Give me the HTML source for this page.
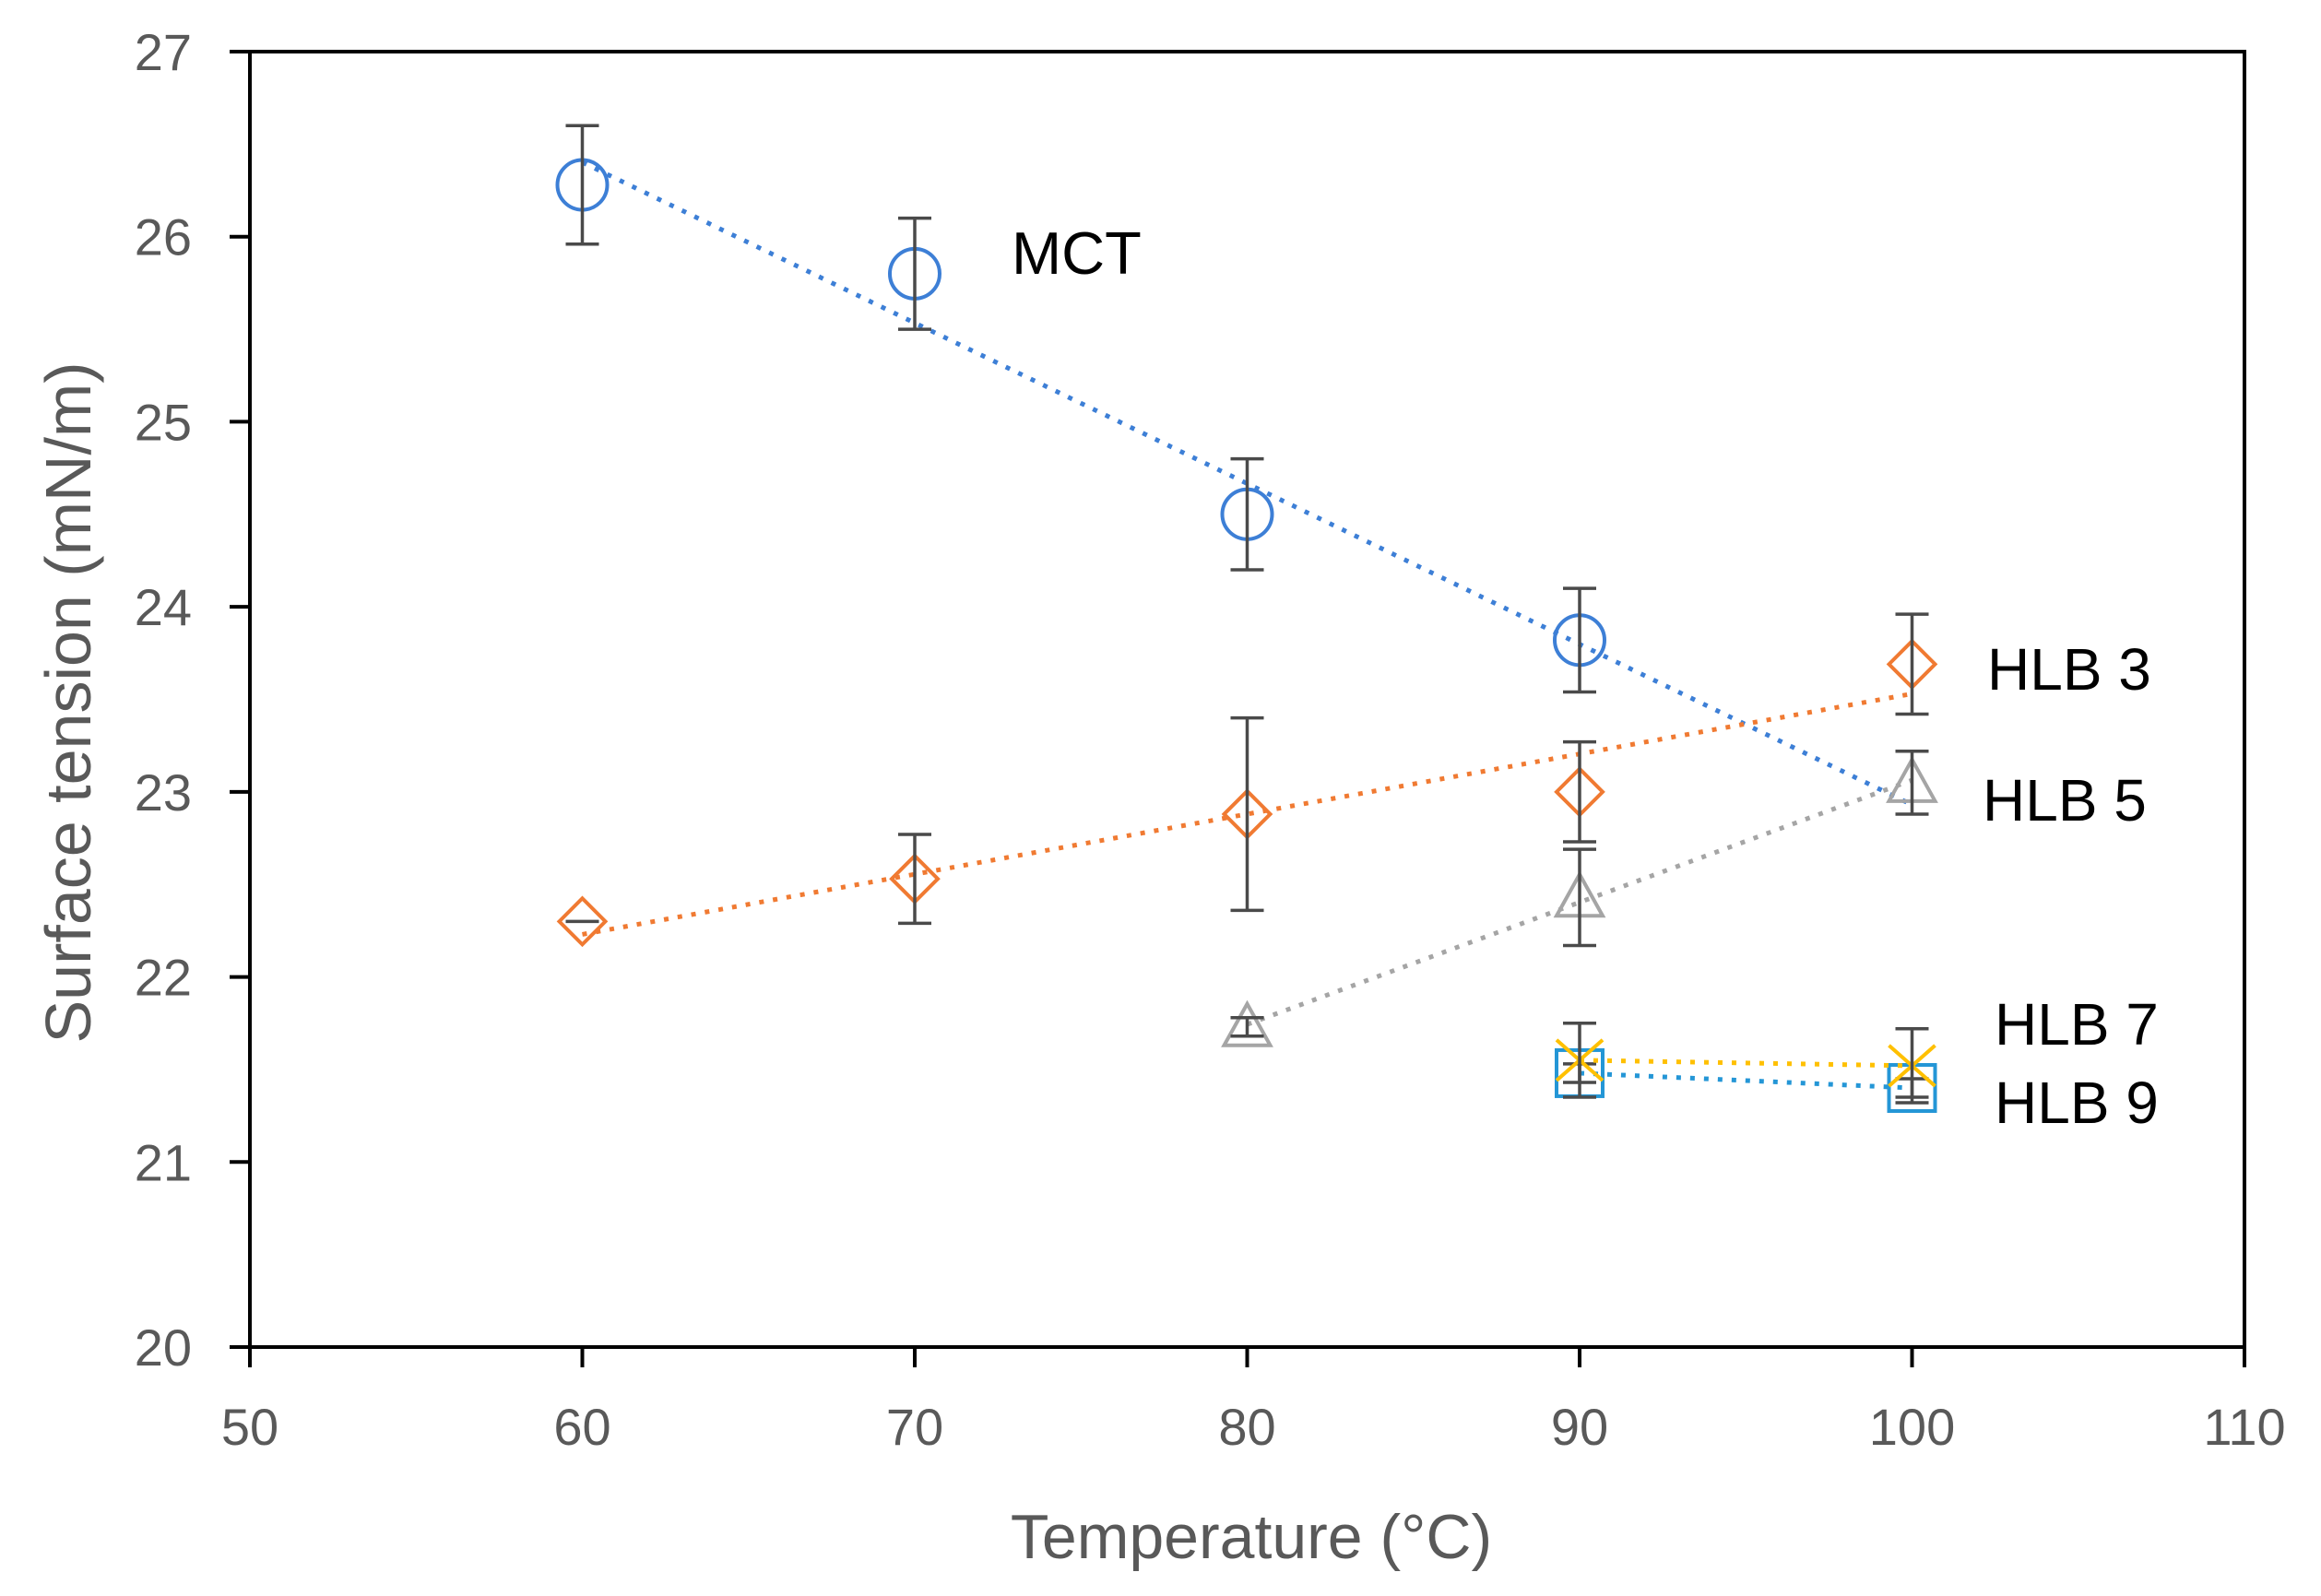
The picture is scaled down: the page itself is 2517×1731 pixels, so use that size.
<!DOCTYPE html>
<html><head><meta charset="utf-8"><style>
html,body{margin:0;padding:0;background:#fff}
svg{display:block;font-family:"Liberation Sans","DejaVu Sans",sans-serif}
</style></head><body>
<svg id="chart" width="2517" height="1731" viewBox="0 0 2517 1731" xmlns="http://www.w3.org/2000/svg">
<rect width="2517" height="1731" fill="#fff"/>
<g id="series"></g>
<rect x="271" y="56" width="2163" height="1405" fill="none" stroke="#000" stroke-width="4"/>
<g id="axes"></g>
<text x="1357" y="1690" font-size="68" fill="#595959" text-anchor="middle">Temperature (°C)</text>
<text transform="translate(98,762) rotate(-90)" font-size="70" fill="#595959" text-anchor="middle">Surface tension (mN/m)</text>
<text x="1097" y="297" font-size="65" fill="#000">MCT</text>
<text x="2155" y="748" font-size="64" fill="#000">HLB 3</text>
<text x="2150" y="890" font-size="64" fill="#000">HLB 5</text>
<text x="2163" y="1133" font-size="64" fill="#000">HLB 7</text>
<text x="2163" y="1218" font-size="64" fill="#000">HLB 9</text>
</svg>
<script>
const xTicks=[50,60,70,80,90,100,110];
const yTicks=[20,21,22,23,24,25,26,27];
const mctX=[60,70,80,90];
const mctY=[26.28,25.8,24.5,23.82];
const mctErr=[0.32,0.3,0.3,0.28];
const hlb3X=[60,70,80,90,100];
const hlb3Y=[22.3,22.53,22.88,23.0,23.69];
const hlb3Err=[0.0,0.24,0.52,0.27,0.27];
const hlb5X=[80,90,100];
const hlb5Y=[21.73,22.43,23.05];
const hlb5Err=[0.05,0.26,0.17];
const hlb7X=[90,100];
const hlb7Y=[21.55,21.52];
const hlb7Err=[0.2,0.2];
const hlb9X=[90,100];
const hlb9Y=[21.48,21.4];
const hlb9Err=[0.05,0.05];

const NS="http://www.w3.org/2000/svg";
const L=271,R=2434,T=56,B=1461;
const sx=v=>L+(v-50)/(110-50)*(R-L);
const sy=v=>B-(v-20)/(27-20)*(B-T);
function mk(tag,attrs,parent){const e=document.createElementNS(NS,tag);for(const k in attrs)e.setAttribute(k,attrs[k]);parent.appendChild(e);return e;}
const axes=document.getElementById('axes');
xTicks.forEach(v=>{
  const t=mk('line',{x1:sx(v),x2:sx(v),y1:B,y2:B+22,stroke:'#000','stroke-width':4},axes);
  
  
  const l=mk('text',{x:sx(v),y:1567,'font-size':56,fill:'#595959','text-anchor':'middle'},axes);
  l.textContent=v;
  
  
});
yTicks.forEach(v=>{
  const t=mk('line',{x1:L-22,x2:L,y1:sy(v),y2:sy(v),stroke:'#000','stroke-width':4},axes);
  
  
  const l=mk('text',{x:208,y:sy(v)+20,'font-size':56,fill:'#595959','text-anchor':'end'},axes);
  l.textContent=v;
  
  
});
function fit(xs,ys){const n=xs.length;let mx=0,my=0;xs.forEach((x,i)=>{mx+=x;my+=ys[i]});mx/=n;my/=n;let num=0,den=0;xs.forEach((x,i)=>{num+=(x-mx)*(ys[i]-my);den+=(x-mx)*(x-mx)});const b=den?num/den:0;return [b,my-b*mx];}
const seriesG=document.getElementById('series');
function series(name,xs,ys,errs,color,shape,lineEnd){
  const g=mk('g',{},seriesG);
  
  
  const [b,a]=fit(xs,ys);
  const x0=xs[0],x1=lineEnd||xs[xs.length-1];
  const tl=mk('line',{x1:sx(x0),y1:sy(a+b*x0),x2:sx(x1),y2:sy(a+b*x1),stroke:color,'stroke-width':5,'stroke-dasharray':'5 10'},g);
  
  
  xs.forEach((x,i)=>{
    const cx=sx(x),cy=sy(ys[i]);
    let m;
    if(shape==='circle')m=mk('circle',{cx:cx,cy:cy,r:27,fill:'none',stroke:color,'stroke-width':4},g);
    else if(shape==='diamond')m=mk('polygon',{points:`${cx-25},${cy} ${cx},${cy-25} ${cx+25},${cy} ${cx},${cy+25}`,fill:'none',stroke:color,'stroke-width':4},g);
    else if(shape==='triangle')m=mk('polygon',{points:`${cx-25},${cy+20} ${cx},${cy-25} ${cx+25},${cy+20}`,fill:'none',stroke:color,'stroke-width':4},g);
    else if(shape==='square')m=mk('rect',{x:cx-25,y:cy-25,width:50,height:50,fill:'none',stroke:color,'stroke-width':4},g);
    else {m=mk('path',{d:`M${cx-25},${cy-22}L${cx+25},${cy+22}M${cx-25},${cy+22}L${cx+25},${cy-22}`,fill:'none',stroke:color,'stroke-width':4},g);}
    
    
    const e=errs[i],top=sy(ys[i]+e),bot=sy(ys[i]-e);
    const eb=mk('path',{d:`M${cx},${top}L${cx},${bot}M${cx-18},${top}L${cx+18},${top}M${cx-18},${bot}L${cx+18},${bot}`,fill:'none',stroke:'#4a4a4a','stroke-width':3.5},g);
    
    
  });
}
series('mct',mctX,mctY,mctErr,'#3d7fd6','circle',100);
series('hlb3',hlb3X,hlb3Y,hlb3Err,'#f07a32','diamond');
series('hlb5',hlb5X,hlb5Y,hlb5Err,'#a5a5a5','triangle');
series('hlb9',hlb9X,hlb9Y,hlb9Err,'#2496d6','square');
series('hlb7',hlb7X,hlb7Y,hlb7Err,'#ffc000','cross');
</script>
</body></html>
